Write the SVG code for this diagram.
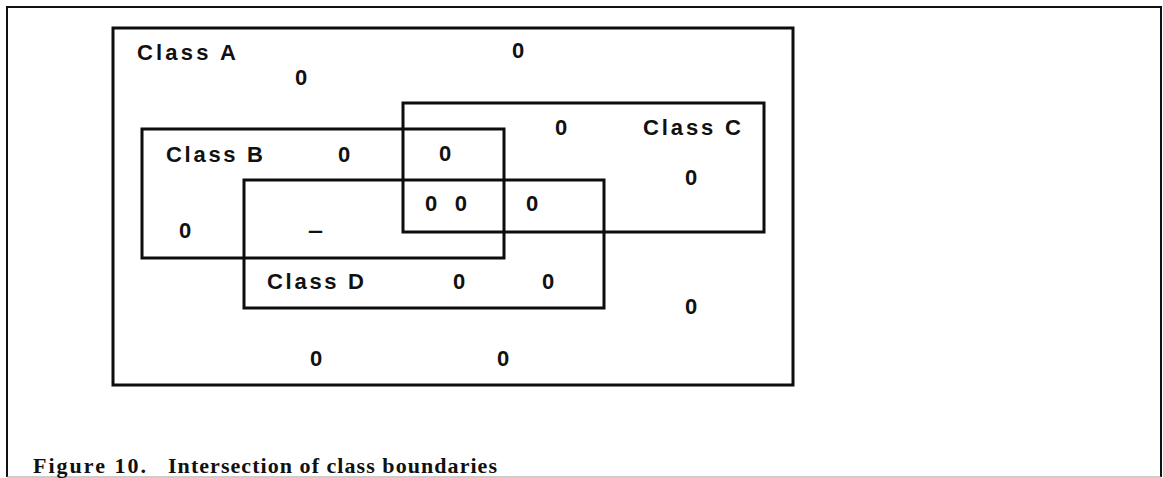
<svg xmlns="http://www.w3.org/2000/svg" width="1163" height="478" viewBox="0 0 1163 478">
  <style>
    .frame { fill: none; stroke: #111; stroke-width: 2; }
    .box { fill: none; stroke: #0d0d0d; stroke-width: 3; }
    .lbl { font-family: "Liberation Sans", Arial, sans-serif; font-weight: bold; font-size: 22px; fill: #111; }
    .num { font-family: "Liberation Sans", Arial, sans-serif; font-weight: bold; font-size: 22px; fill: #111; text-anchor: middle; }
    .cap { font-family: "Liberation Serif", "Times New Roman", serif; font-weight: bold; font-size: 22px; fill: #111; }
  </style>
  <rect width="1163" height="478" fill="#fff"/>

  <!-- page frame -->
  <g id="frame">
    <path class="frame" d="M7,477 V7 H1161 V477"/>
    <line x1="7" y1="477" x2="1161" y2="477" stroke="#999" stroke-width="1"/>
  </g>

  <!-- class regions -->
  <g id="class-a">
    <rect class="box" x="113" y="28" width="680" height="357"/>
    <text class="lbl" x="137" y="60" textLength="99" lengthAdjust="spacing">Class A</text>
  </g>
  <g id="class-b">
    <rect class="box" x="142" y="129" width="362" height="129"/>
    <text class="lbl" x="166" y="162" textLength="97" lengthAdjust="spacing">Class B</text>
  </g>
  <g id="class-c">
    <rect class="box" x="403" y="103" width="361" height="129"/>
    <text class="lbl" x="643" y="135" textLength="98" lengthAdjust="spacing">Class C</text>
  </g>
  <g id="class-d">
    <rect class="box" x="244" y="180" width="360" height="128"/>
    <text class="lbl" x="267" y="289" textLength="97" lengthAdjust="spacing">Class D</text>
  </g>

  <!-- members of each region -->
  <g id="members">
    <text class="num" x="301" y="85">0</text>
    <text class="num" x="518" y="58">0</text>
    <text class="num" x="561" y="135">0</text>
    <text class="num" x="344" y="162">0</text>
    <text class="num" x="445" y="161">0</text>
    <text class="num" x="691" y="185">0</text>
    <text class="num" x="446" y="211" textLength="42" lengthAdjust="spacing">0 0</text>
    <text class="num" x="532" y="211">0</text>
    <text class="num" x="185" y="238">0</text>
    <text class="num" x="315.5" y="238" textLength="15" lengthAdjust="spacingAndGlyphs">–</text>
    <text class="num" x="459" y="289">0</text>
    <text class="num" x="548" y="289">0</text>
    <text class="num" x="691" y="314">0</text>
    <text class="num" x="316" y="366">0</text>
    <text class="num" x="503" y="366">0</text>
  </g>

  <!-- caption -->
  <g id="caption">
    <text class="cap" x="33" y="473" textLength="113" lengthAdjust="spacing">Figure 10.</text>
    <text class="cap" x="168" y="473" textLength="329" lengthAdjust="spacing">Intersection of class boundaries</text>
  </g>
</svg>
